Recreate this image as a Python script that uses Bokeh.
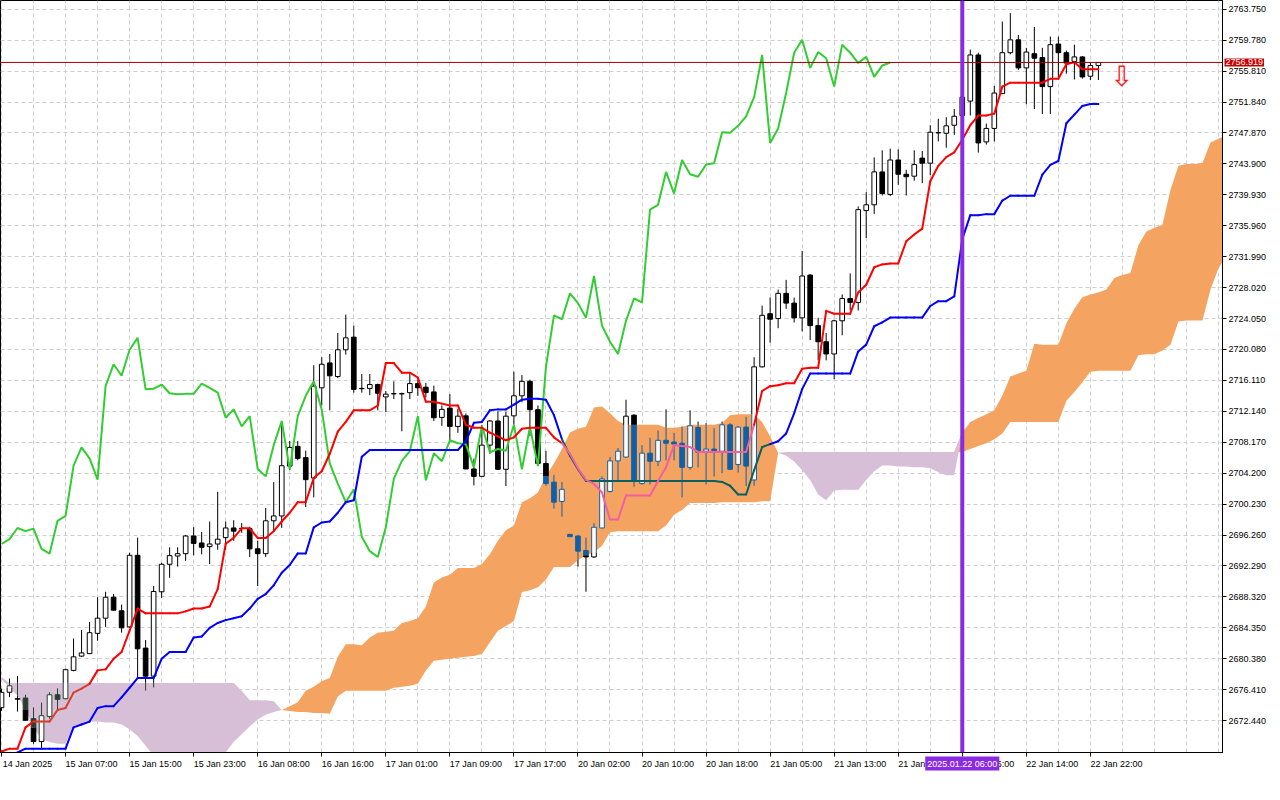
import numpy as np
from bokeh.plotting import figure
from bokeh.models import FixedTicker, Span, Label, Range1d, PrintfTickFormatter
from bokeh.embed import file_html
from bokeh.resources import INLINE
from bokeh.core.properties import value

# ---------------- data (hourly bars, index 0 = 14 Jan 23:00) ----------------
opens = [2674.10, 2676.08, 2675.26, 2675.34, 2672.69, 2669.75, 2672.98, 2675.76, 2675.26, 2678.89,
         2680.72, 2681.04, 2683.64, 2685.59, 2688.28, 2686.54, 2684.47, 2693.66, 2681.75, 2678.15,
         2688.98, 2692.51, 2693.57, 2693.87, 2696.14, 2695.24, 2694.78, 2695.11, 2695.93, 2697.17,
         2697.13, 2697.09, 2694.49, 2693.87, 2698.09, 2698.71, 2705.11, 2707.64, 2706.19, 2703.58,
         2715.16, 2718.35, 2716.61, 2720.04, 2721.66, 2715.08, 2715.08, 2715.58, 2713.99, 2714.41,
         2714.41, 2714.54, 2715.70, 2715.24, 2714.63, 2711.36, 2712.55, 2710.20, 2711.56, 2704.74,
         2703.79, 2707.80, 2710.90, 2704.70, 2711.56, 2714.13, 2715.99, 2712.35, 2705.45, 2703.05,
         2700.57, 2696.35, 2696.14, 2694.28, 2693.45, 2697.17, 2701.84, 2705.78, 2706.27, 2711.65,
         2702.87, 2706.77, 2705.73, 2708.42, 2708.20, 2708.05, 2704.95, 2710.07, 2707.02, 2707.30,
         2707.02, 2710.41, 2705.32, 2710.12, 2703.33, 2717.85, 2724.67, 2724.05, 2727.28, 2726.03,
         2724.14, 2729.63, 2723.14, 2721.07, 2719.50, 2723.76, 2726.62, 2726.12, 2737.91, 2738.65,
         2742.87, 2739.97, 2744.40, 2742.57, 2742.32, 2744.64, 2743.99, 2747.91, 2747.83, 2748.86,
         2750.10, 2751.96, 2757.88, 2746.72, 2748.45, 2752.92, 2758.17, 2759.82, 2756.22, 2758.04,
         2757.55, 2753.82, 2759.28, 2758.17, 2757.05, 2757.63, 2755.15, 2756.52]
highs = [2676.54, 2677.86, 2678.15, 2675.76, 2674.14, 2674.76, 2676.08, 2676.58, 2679.10, 2682.99,
         2684.06, 2685.09, 2688.28, 2688.98, 2688.69, 2687.33, 2693.99, 2695.93, 2682.78, 2689.72,
         2692.71, 2694.69, 2694.69, 2696.26, 2697.26, 2696.64, 2698.00, 2701.81, 2698.00, 2698.16,
         2697.79, 2697.34, 2695.52, 2699.74, 2703.05, 2710.90, 2708.33, 2708.33, 2707.09, 2718.06,
         2719.09, 2719.50, 2722.19, 2724.55, 2723.14, 2716.94, 2716.94, 2715.70, 2714.75, 2715.99,
         2714.54, 2717.02, 2716.20, 2715.78, 2715.45, 2712.89, 2714.34, 2712.48, 2711.86, 2706.06,
         2710.41, 2711.00, 2712.14, 2712.06, 2717.23, 2716.82, 2716.20, 2712.89, 2707.06, 2703.99,
         2703.05, 2696.39, 2696.25, 2695.93, 2697.79, 2703.79, 2706.27, 2707.43, 2713.63, 2711.75,
         2707.80, 2708.75, 2709.66, 2712.39, 2709.38, 2710.20, 2712.27, 2710.82, 2710.62, 2709.99,
         2710.82, 2710.62, 2710.25, 2711.44, 2719.09, 2725.70, 2726.74, 2727.77, 2729.01, 2726.74,
         2732.73, 2729.73, 2724.14, 2722.19, 2723.90, 2727.15, 2729.84, 2738.44, 2740.27, 2744.73,
         2745.64, 2745.85, 2745.76, 2743.15, 2745.64, 2745.55, 2748.86, 2749.69, 2749.89, 2750.93,
         2752.95, 2758.58, 2758.17, 2749.07, 2753.91, 2762.17, 2763.25, 2760.44, 2758.79, 2761.48,
         2758.79, 2760.24, 2760.24, 2758.45, 2759.20, 2757.70, 2756.93, 2756.97]
lows = [2673.69, 2675.46, 2673.60, 2672.45, 2669.46, 2668.84, 2672.69, 2673.81, 2675.17, 2678.77,
        2680.63, 2681.00, 2682.70, 2684.47, 2686.58, 2683.73, 2684.35, 2678.03, 2676.29, 2676.70,
        2688.19, 2690.77, 2692.21, 2692.95, 2693.66, 2693.78, 2692.54, 2694.37, 2694.37, 2695.52,
        2696.55, 2693.45, 2689.72, 2693.45, 2696.76, 2697.17, 2704.61, 2705.85, 2699.86, 2701.10,
        2712.89, 2712.27, 2716.40, 2719.42, 2714.54, 2714.54, 2714.22, 2712.27, 2712.06, 2713.72,
        2709.57, 2713.72, 2714.13, 2713.92, 2710.90, 2710.28, 2708.33, 2709.38, 2704.70, 2702.63,
        2703.70, 2706.69, 2704.60, 2702.55, 2710.41, 2713.30, 2708.95, 2705.23, 2702.59, 2699.65,
        2698.62, 2696.01, 2692.21, 2688.98, 2693.32, 2697.10, 2701.75, 2703.17, 2706.20, 2702.46,
        2702.75, 2702.75, 2705.11, 2705.85, 2705.85, 2701.10, 2704.61, 2704.95, 2702.75, 2703.79,
        2704.20, 2704.61, 2704.29, 2702.55, 2702.59, 2717.76, 2720.95, 2722.81, 2725.29, 2723.55,
        2722.40, 2721.28, 2718.68, 2718.68, 2716.27, 2721.90, 2725.08, 2725.08, 2734.38, 2737.48,
        2739.84, 2739.77, 2741.21, 2739.84, 2741.75, 2741.42, 2742.45, 2746.79, 2745.97, 2747.62,
        2749.36, 2750.10, 2745.35, 2746.38, 2746.79, 2752.85, 2757.96, 2755.97, 2751.55, 2750.93,
        2750.31, 2750.31, 2755.06, 2755.47, 2754.73, 2754.85, 2754.66, 2754.66]
closes = [2676.08, 2676.91, 2675.20, 2672.49, 2669.75, 2673.07, 2675.76, 2675.17, 2678.98, 2680.63,
          2681.13, 2683.73, 2685.59, 2688.28, 2686.62, 2684.35, 2693.66, 2681.66, 2678.15, 2689.02,
          2692.51, 2693.62, 2693.87, 2696.14, 2695.19, 2694.69, 2695.11, 2695.73, 2697.17, 2696.76,
          2697.09, 2694.49, 2693.87, 2698.09, 2698.71, 2705.16, 2707.51, 2706.10, 2703.37, 2715.37,
          2718.18, 2716.70, 2720.04, 2721.57, 2714.96, 2715.04, 2715.58, 2714.46, 2714.34, 2714.38,
          2714.38, 2715.70, 2715.16, 2714.54, 2711.32, 2712.39, 2710.20, 2711.52, 2704.74, 2703.79,
          2707.80, 2710.90, 2704.70, 2711.52, 2714.13, 2715.99, 2712.35, 2705.45, 2702.87, 2700.48,
          2702.13, 2696.05, 2694.19, 2693.45, 2697.26, 2703.46, 2705.78, 2707.02, 2711.52, 2703.29,
          2706.77, 2705.73, 2708.42, 2708.05, 2707.93, 2704.95, 2710.28, 2706.89, 2707.30, 2707.09,
          2710.41, 2704.70, 2710.12, 2705.11, 2717.85, 2724.46, 2723.96, 2727.28, 2726.03, 2724.14,
          2729.51, 2723.14, 2721.07, 2719.50, 2723.76, 2726.62, 2726.12, 2738.03, 2738.65, 2742.87,
          2740.09, 2744.40, 2742.57, 2742.25, 2743.81, 2743.99, 2747.96, 2747.88, 2748.78, 2750.01,
          2752.46, 2757.88, 2746.59, 2748.45, 2752.99, 2758.17, 2759.82, 2756.22, 2758.25, 2757.46,
          2753.82, 2759.20, 2758.17, 2756.84, 2757.63, 2755.06, 2756.52, 2756.919]

tenkan_sen = [2668.47, 2668.84, 2668.84, 2671.57, 2672.32, 2672.32, 2672.32, 2673.81, 2674.06, 2676.04,
              2676.54, 2677.16, 2678.89, 2679.02, 2680.38, 2681.25, 2683.98, 2686.83, 2686.21, 2686.21,
              2686.21, 2686.21, 2686.21, 2686.46, 2686.83, 2686.83, 2687.08, 2689.31, 2695.15, 2695.89,
              2697.13, 2697.13, 2695.89, 2695.89, 2696.76, 2698.00, 2699.12, 2700.48, 2700.48, 2703.58,
              2704.45, 2706.69, 2709.54, 2710.78, 2712.27, 2712.27, 2712.27, 2712.89, 2718.34, 2718.34,
              2717.10, 2717.10, 2716.48, 2713.38, 2713.38, 2713.13, 2712.89, 2712.89, 2710.41, 2710.03,
              2710.03, 2709.41, 2708.92, 2708.42, 2708.79, 2709.91, 2710.03, 2710.03, 2710.03, 2708.79,
              2708.05, 2706.69, 2704.82, 2703.33, 2702.84, 2701.72, 2698.25, 2698.25, 2701.35, 2701.35,
              2701.35, 2701.35, 2703.21, 2704.95, 2707.80, 2707.68, 2707.55, 2706.93, 2706.93, 2706.93,
              2706.93, 2706.93, 2706.93, 2706.93, 2710.41, 2714.75, 2715.37, 2715.49, 2715.74, 2715.74,
              2717.60, 2717.72, 2717.72, 2725.04, 2724.67, 2724.67, 2724.67, 2727.40, 2728.39, 2730.63,
              2731.00, 2731.12, 2731.12, 2733.97, 2734.84, 2735.59, 2741.67, 2743.65, 2744.77, 2745.39,
              2747.00, 2748.86, 2750.10, 2750.10, 2750.35, 2753.82, 2754.32, 2754.32, 2754.32, 2754.32,
              2754.32, 2754.82, 2754.82, 2756.68, 2756.93, 2756.06, 2756.06, 2756.06]
kijun_sen = [2666.98, 2667.60, 2668.35, 2668.84, 2668.84, 2668.84, 2668.84, 2668.84, 2668.84, 2671.57,
             2671.94, 2672.32, 2674.06, 2674.30, 2674.30, 2675.42, 2676.66, 2677.90, 2677.90, 2677.90,
             2680.38, 2681.25, 2681.25, 2681.25, 2683.11, 2683.23, 2684.35, 2684.97, 2685.34, 2685.59,
             2685.84, 2686.83, 2688.07, 2688.69, 2689.81, 2691.42, 2692.42, 2693.90, 2693.90, 2697.25,
             2697.87, 2698.00, 2699.12, 2700.48, 2700.73, 2706.31, 2707.18, 2707.18, 2707.18, 2707.18,
             2707.18, 2707.18, 2707.18, 2707.18, 2707.18, 2707.18, 2707.18, 2707.18, 2708.30, 2710.66,
             2710.78, 2712.27, 2712.39, 2712.39, 2713.01, 2713.63, 2713.75, 2713.75, 2713.63, 2711.65,
             2708.55, 2706.43, 2704.70, 2703.21, 2703.21, 2703.21, 2703.21, 2703.21, 2703.21, 2703.21,
             2703.21, 2703.21, 2703.21, 2703.21, 2703.21, 2703.21, 2703.21, 2703.21, 2703.21, 2703.21,
             2703.08, 2702.59, 2701.47, 2701.47, 2704.57, 2707.55, 2707.93, 2708.30, 2709.29, 2711.89,
             2714.99, 2716.98, 2716.98, 2716.98, 2716.98, 2716.98, 2716.98, 2719.83, 2720.70, 2723.06,
             2723.55, 2724.17, 2724.17, 2724.17, 2724.17, 2724.17, 2725.66, 2726.28, 2726.28, 2726.90,
             2734.22, 2737.32, 2737.32, 2737.45, 2737.45, 2739.19, 2739.81, 2739.81, 2739.81, 2739.81,
             2742.53, 2743.78, 2744.27, 2749.11, 2750.23, 2751.34, 2751.59, 2751.59]

# Senkou spans, already displayed 26 bars forward (position index 0..153)
senkou_a = [2677.78, 2676.66, 2675.67, 2673.81, 2671.57, 2670.08, 2669.71, 2669.46, 2669.46, 2671.70,
            2671.94, 2672.32, 2672.32, 2672.19, 2672.19, 2671.94, 2671.32, 2670.46, 2669.22, 2667.97,
            2666.98, 2666.98, 2666.98, 2666.98, 2666.98, 2666.98, 2666.98, 2667.23, 2668.35, 2669.71,
            2670.70, 2671.70, 2672.57, 2673.19, 2673.56, 2673.81, 2674.30, 2674.80, 2676.29, 2676.78,
            2677.53, 2677.90, 2680.63, 2682.24, 2682.24, 2682.12, 2683.11, 2683.73, 2683.85, 2683.98,
            2684.97, 2685.22, 2685.59, 2687.08, 2690.18, 2690.80, 2691.17, 2692.04, 2692.04, 2692.04,
            2692.54, 2693.78, 2695.52, 2696.88, 2697.50, 2700.48, 2700.97, 2701.72, 2703.83, 2705.45,
            2707.30, 2709.41, 2709.91, 2710.16, 2712.64, 2712.76, 2711.89, 2710.90, 2710.41, 2710.41,
            2710.41, 2710.41, 2710.41, 2710.03, 2710.03, 2710.16, 2710.41, 2710.41, 2710.41, 2710.41,
            2710.65, 2711.65, 2711.77, 2711.77, 2711.77, 2710.78, 2708.92, 2706.81, 2706.43, 2705.69,
            2704.57, 2703.33, 2701.47, 2700.73, 2701.97, 2702.09, 2702.09, 2702.09, 2703.33, 2704.45,
            2705.19, 2705.19, 2705.07, 2705.07, 2704.95, 2704.95, 2704.82, 2704.33, 2703.95, 2703.95,
            2709.41, 2710.78, 2711.27, 2711.77, 2712.27, 2714.13, 2716.61, 2716.98, 2717.35, 2720.82,
            2720.70, 2720.70, 2720.70, 2723.43, 2725.29, 2726.78, 2727.15, 2727.40, 2727.77, 2729.26,
            2729.63, 2729.88, 2733.48, 2735.21, 2735.71, 2736.08, 2740.55, 2743.65, 2743.90, 2743.90,
            2744.02, 2746.63, 2747.13, 2747.62]
senkou_b = [2678.03, 2677.28, 2677.28, 2677.28, 2677.28, 2677.28, 2677.28, 2677.28, 2677.28, 2677.28,
            2677.28, 2677.28, 2677.28, 2677.28, 2677.28, 2677.28, 2677.28, 2677.28, 2677.28, 2677.28,
            2677.28, 2677.28, 2677.28, 2677.28, 2677.28, 2677.28, 2677.28, 2677.28, 2677.28, 2677.28,
            2676.29, 2675.05, 2675.05, 2675.05, 2674.92, 2673.81, 2673.68, 2673.56, 2673.56, 2673.43,
            2673.43, 2673.31, 2675.54, 2676.29, 2676.29, 2676.29, 2676.29, 2676.29, 2676.29, 2676.66,
            2676.78, 2676.91, 2677.16, 2678.89, 2680.13, 2680.26, 2680.38, 2680.50, 2680.63, 2680.75,
            2681.00, 2682.49, 2683.98, 2684.60, 2685.22, 2688.94, 2689.19, 2689.56, 2690.55, 2692.17,
            2692.17, 2692.17, 2693.04, 2693.66, 2694.03, 2694.90, 2696.63, 2696.76, 2696.76, 2696.76,
            2696.76, 2696.76, 2696.76, 2697.50, 2698.87, 2699.49, 2700.36, 2700.36, 2700.36, 2700.36,
            2700.48, 2700.48, 2700.48, 2700.48, 2700.48, 2700.61, 2700.61, 2706.81, 2706.93, 2706.93,
            2706.93, 2706.93, 2706.93, 2706.93, 2706.93, 2706.93, 2706.93, 2706.93, 2706.93, 2706.93,
            2706.93, 2706.93, 2706.93, 2706.93, 2706.93, 2706.93, 2706.93, 2706.93, 2706.93, 2706.93,
            2706.93, 2707.30, 2707.68, 2708.05, 2708.55, 2709.29, 2710.78, 2710.78, 2710.78, 2710.78,
            2710.78, 2710.78, 2710.78, 2713.51, 2714.62, 2715.86, 2717.23, 2717.35, 2717.35, 2717.35,
            2717.35, 2717.35, 2719.34, 2719.46, 2719.46, 2719.96, 2720.70, 2723.68, 2723.80, 2723.80,
            2723.80, 2727.77, 2730.50, 2732.12]
chikou_shift = 26

x_tick_bars = [0, 8, 16, 24, 32, 40, 48, 56, 64, 72, 80, 88, 96, 104, 112, 120, 128, 136]
x_tick_labels = ["14 Jan 2025", "15 Jan 07:00", "15 Jan 15:00", "15 Jan 23:00", "16 Jan 08:00",
                 "16 Jan 16:00", "17 Jan 01:00", "17 Jan 09:00", "17 Jan 17:00", "20 Jan 02:00",
                 "20 Jan 10:00", "20 Jan 18:00", "21 Jan 05:00", "21 Jan 13:00", "21 Jan 21:00",
                 "22 Jan 06:00", "22 Jan 14:00", "22 Jan 22:00"]
y_ticks = [2672.44, 2676.41, 2680.38, 2684.35, 2688.32, 2692.29, 2696.26, 2700.23, 2704.20,
           2708.17, 2712.14, 2716.11, 2720.08, 2724.05, 2728.02, 2731.99, 2735.96, 2739.93,
           2743.90, 2747.87, 2751.84, 2755.81, 2759.78, 2763.75]
marker_bar = 120
marker_text = "2025.01.22 06:00"

# ---------------- styling ----------------
FONT = "Liberation Sans"
FS = "9px"
C_TENKAN, C_KIJUN, C_CHIKOU = "#FF0000", "#0000FF", "#32CD32"
C_SPAN_A, C_SPAN_B = "#F4A460", "#D8BFD8"
ALT_O = {"bar": "#1060A8", "tenkan": "#F060A0", "kijun": "#0A6060"}
ALT_T = {"bar": "#27402F", "tenkan": "#D8402C", "kijun": "#0000FF"}
X0, X1 = -0.125, 152.5
Y0, Y1 = 2668.35, 2764.87

n = len(closes)
O = np.array(opens); H = np.array(highs); L = np.array(lows); C = np.array(closes)
A = np.array(senkou_a); B = np.array(senkou_b)
lo_c = np.minimum(A, B); hi_c = np.maximum(A, B)
is_orange = A > B

p = figure(frame_width=1222, frame_height=752,
           x_range=Range1d(X0, X1), y_range=Range1d(Y0, Y1),
           y_axis_location="right", output_backend="svg", toolbar_location=None,
           min_border_left=0, min_border_top=0, min_border_bottom=0, min_border_right=2,
           background_fill_color="white", border_fill_color="white")
p.outline_line_color = "black"
p.outline_line_width = 1

# grid
p.xgrid.ticker = FixedTicker(ticks=list(range(0, 153, 4)))
for g in (p.xgrid, p.ygrid):
    g.grid_line_color = "#CFCFCF"
    g.grid_line_dash = "4 3"
    g.grid_line_width = 1

# cloud
pos = np.arange(len(A))
p.varea(x=pos, y1=B, y2=np.maximum(A, B), fill_color=C_SPAN_A, fill_alpha=1.0)
p.varea(x=pos, y1=A, y2=np.maximum(A, B), fill_color=C_SPAN_B, fill_alpha=1.0)


def split(a, b, lo, hi):
    a, b = min(a, b), max(a, b)
    if b <= lo or a >= hi:
        return [(a, b, False)]
    parts = []
    if a < lo:
        parts.append((a, lo, False))
    parts.append((max(a, lo), min(b, hi), True))
    if b > hi:
        parts.append((hi, b, False))
    return parts


# candles
hw = 0.29
wx, wy0, wy1, wc = [], [], [], []
ql, qr, qb, qt, qc = [], [], [], [], []
sx0, sx1, sy0, sy1, sc = [], [], [], [], []
for i in range(n):
    alt = ALT_O["bar"] if is_orange[i] else ALT_T["bar"]
    for a, b, ins in split(L[i], H[i], lo_c[i], hi_c[i]):
        wx.append(i); wy0.append(a); wy1.append(b); wc.append(alt if ins else "black")
    bot, top = min(O[i], C[i]), max(O[i], C[i])
    if C[i] > O[i]:
        ql.append(i - hw); qr.append(i + hw); qb.append(bot); qt.append(top); qc.append("white")
    else:
        for a, b, ins in split(bot, top, lo_c[i], hi_c[i]):
            ql.append(i - hw); qr.append(i + hw); qb.append(a); qt.append(b)
            qc.append(alt if ins else "black")
    for xe in (i - hw, i + hw):
        for a, b, ins in split(bot, top, lo_c[i], hi_c[i]):
            sx0.append(xe); sx1.append(xe); sy0.append(a); sy1.append(b)
            sc.append(alt if ins else "black")
    for ye in (bot, top):
        ins = lo_c[i] < ye < hi_c[i]
        sx0.append(i - hw); sx1.append(i + hw); sy0.append(ye); sy1.append(ye)
        sc.append(alt if ins else "black")

p.segment(x0=wx, y0=wy0, x1=wx, y1=wy1, line_color=wc, line_width=1)
p.quad(left=ql, right=qr, bottom=qb, top=qt, fill_color=qc, line_color=None)
p.segment(x0=sx0, y0=sy0, x1=sx1, y1=sy1, line_color=sc, line_width=1)


def colored_line(xs, vals, base, alt_o, alt_t, width=2):
    x0, y0, x1, y1, col = [], [], [], [], []
    for k in range(len(vals) - 1):
        ia, ib = xs[k], xs[k + 1]
        ym = (vals[k] + vals[k + 1]) / 2
        lo = (lo_c[ia] + lo_c[ib]) / 2
        hi = (hi_c[ia] + hi_c[ib]) / 2
        orange_mid = (A[ia] + A[ib]) > (B[ia] + B[ib])
        inside = lo < ym < hi
        x0.append(ia); x1.append(ib); y0.append(vals[k]); y1.append(vals[k + 1])
        col.append((alt_o if orange_mid else alt_t) if inside else base)
    p.segment(x0=x0, y0=y0, x1=x1, y1=y1, line_color=col, line_width=width, line_cap="round")


bars = list(range(n))
chik_x = [i - chikou_shift for i in range(chikou_shift, n)]
chik_y = closes[chikou_shift:]
p.line(chik_x, chik_y, line_color=C_CHIKOU, line_width=2)
colored_line(bars, kijun_sen, C_KIJUN, ALT_O["kijun"], ALT_T["kijun"])
colored_line(bars, tenkan_sen, C_TENKAN, ALT_O["tenkan"], ALT_T["tenkan"])

# current price line
p.add_layout(Span(location=closes[-1], dimension="width", line_color="#A00000", line_width=1))

# vertical marker
p.add_layout(Span(location=marker_bar, dimension="height", line_color="#8A2BE2", line_width=4))

# sell arrow next to last bar
p.text(x=[n + 1.9], y=[closes[-1] + 0.3], text=["\u21e9"], text_color="#FF1A1A",
       text_font=value("DejaVu Sans"), text_font_size="28px",
       text_align="center", text_baseline="top")

# axes
xa = p.xaxis[0]
shift = 3.25
xa.ticker = FixedTicker(ticks=[b + shift for b in x_tick_bars], minor_ticks=x_tick_bars)
xa.major_label_overrides = {b + shift: t for b, t in zip(x_tick_bars, x_tick_labels)}
xa.major_tick_out = 0
xa.major_tick_in = 0
xa.minor_tick_out = 4
xa.minor_tick_in = 0
xa.minor_tick_line_color = "black"
xa.major_label_standoff = 2
xa.axis_line_color = "black"

ya = p.yaxis[0]
ya.ticker = FixedTicker(ticks=y_ticks)
ya.formatter = PrintfTickFormatter(format="%.3f")
ya.major_tick_out = 4
ya.major_tick_in = 0
ya.minor_tick_out = 0
ya.minor_tick_in = 0
ya.major_label_standoff = 2
ya.axis_line_color = "black"

for ax in (xa, ya):
    ax.major_label_text_font = FONT
    ax.major_label_text_font_size = FS
    ax.major_label_text_color = "black"

# labels that sit on the axes (placed in side panels so they are not clipped to the frame)
price_label = Label(x=X1, y=closes[-1], x_offset=2, text="%.3f" % closes[-1],
                    text_baseline="middle", text_align="left", text_color="white",
                    text_font=FONT, text_font_size=FS,
                    background_fill_color="#C80000", padding=1)
date_label = Label(x=marker_bar, y=Y0, y_offset=-4, text=marker_text,
                   text_baseline="top", text_align="center", text_color="white",
                   text_font=FONT, text_font_size=FS,
                   background_fill_color="#8A2BE2", padding=2)
p.add_layout(price_label, "below")
p.add_layout(date_label, "below")

open("out.html", "w").write(file_html(p, INLINE))
